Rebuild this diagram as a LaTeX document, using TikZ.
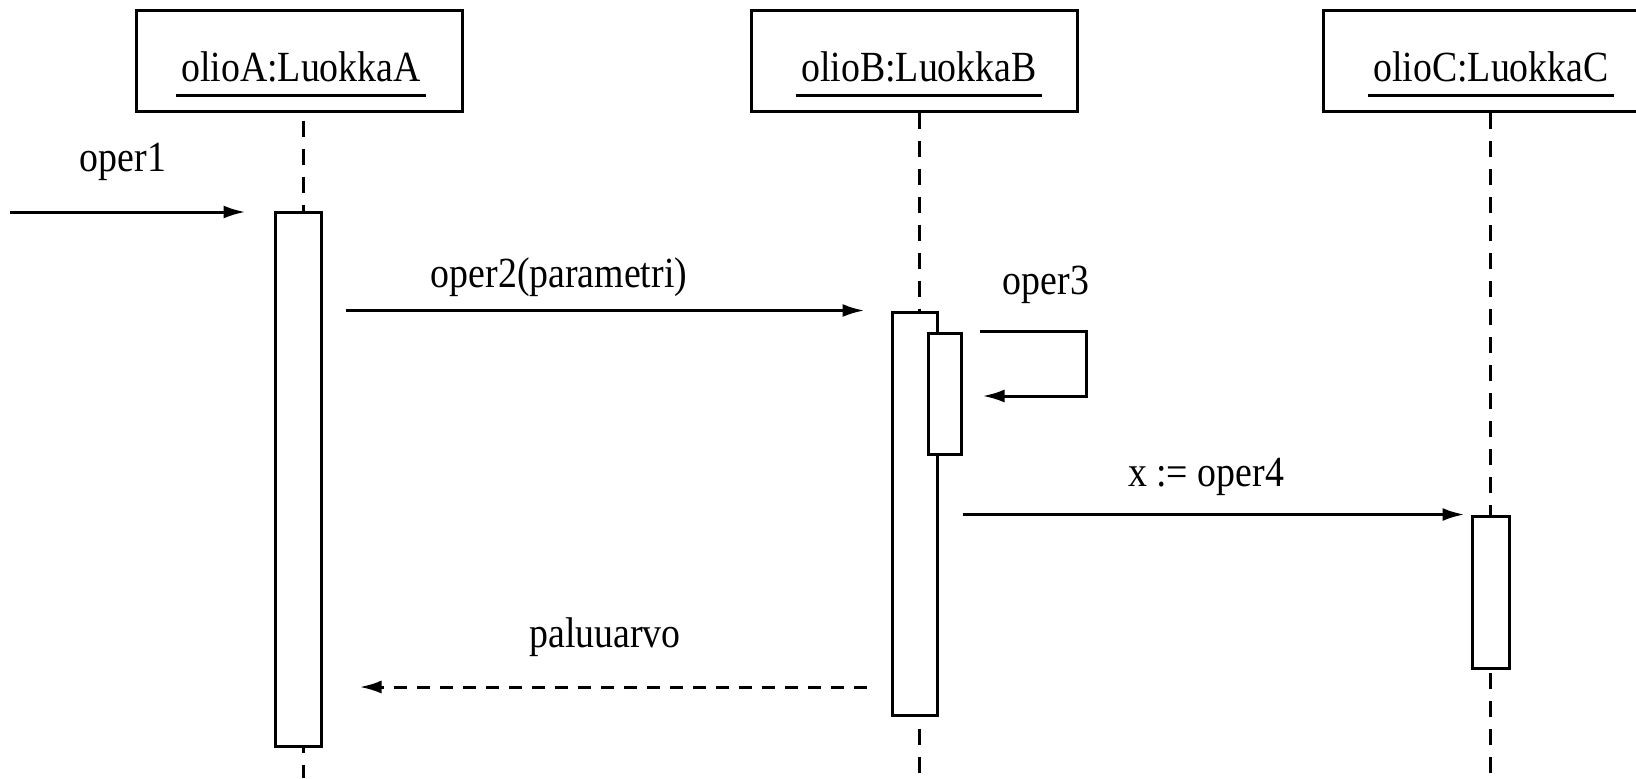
\documentclass[tikz,border=0pt]{standalone}
\usepackage{fontspec}
\setmainfont{Liberation Serif}[FakeStretch=0.88]
\usetikzlibrary{arrows.meta}

\begin{document}
\begin{tikzpicture}[x=0.5pt, y=-0.5pt,
   font=\fontsize{21.5}{26}\selectfont,
   object/.style ={rectangle, draw, line width=1.5pt, inner sep=0pt, minimum width=163pt, minimum height=50.5pt},
   objname/.style ={inner xsep=2.5pt, inner ysep=6.5pt, anchor=base},
   activation/.style ={rectangle, draw, fill=white, line width=1.5pt, inner sep=0pt},
   lifeline/.style ={line width=1.5pt, dash pattern=on 8pt off 6pt},
   msg/.style ={line width=1.5pt, -{Latex[length=11pt, width=6.5pt]}},
   reply/.style ={msg, dash pattern=on 6.5pt off 5pt},
   msgname/.style ={inner sep=0pt, anchor=base}]
   \clip (0,0) rectangle (1636,778);

   % objects
   \node[object] (boxA) at (299,60.5) {};
   \node[object] (boxB) at (914,60.5) {};
   \node[object] (boxC) at (1486,61) {};
   \node[objname] (nameA) at (301,81) {olioA:LuokkaA};
   \node[objname] (nameB) at (919,81) {olioB:LuokkaB};
   \node[objname] (nameC) at (1491,81) {olioC:LuokkaC};
   \draw[line width=1.5pt] (nameA.south west) -- (nameA.south east);
   \draw[line width=1.5pt] (nameB.south west) -- (nameB.south east);
   \draw[line width=1.5pt] (nameC.south west) -- (nameC.south east);

   % lifelines
   \coordinate (endA) at (303,778);
   \coordinate (endB) at (919,778);
   \coordinate (endC) at (1490,778);
   \draw[lifeline] ([yshift=-4pt]boxA.south -| endA) -- (endA);
   \draw[lifeline] (boxB.south -| endB) -- (endB);
   \draw[lifeline] (boxC.south -| endC) -- (endC);

   % activations
   \node[activation, minimum width=23pt, minimum height=267pt] (actA) at (298,479) {};
   \node[activation, minimum width=22.5pt, minimum height=201.5pt] (actB) at (914.5,513.5) {};
   \node[activation, minimum width=16.5pt, minimum height=60.5pt] (actB2) at (944.5,393.5) {};
   \node[activation, minimum width=18.5pt, minimum height=76pt] (actC) at (1490.5,592) {};

   % messages
   \coordinate (start) at (10,212);
   \draw[msg, shorten >=14pt] (start) -- (start -| actA.west);
   \draw[msg, shorten <=11.5pt, shorten >=13pt] (actA.east |- actB.north) -- (actB.north west);
   \draw[msg, shorten <=8.5pt, shorten >=10pt] (actB2.north east) -| (1086,396) -- (actB2.east |- 0,396);
   \draw[msg, shorten >=3pt] (actB2.east |- actC.north) -- (actC.north west);
   \draw[reply, shorten <=12pt, shorten >=18.5pt] (actB.west |- 0,687) -- (actA.east |- 0,687);

   \node[msgname] (oper1) at (123,171) {oper1};
   \node[msgname] (oper2) at (559,287) {oper2(parametri)};
   \node[msgname] (oper3) at (1046,294) {oper3};
   \node[msgname] (oper4) at (1206,486) {x := oper4};
   \node[msgname] (paluu) at (605,647) {paluuarvo};
\end{tikzpicture}
\end{document}
